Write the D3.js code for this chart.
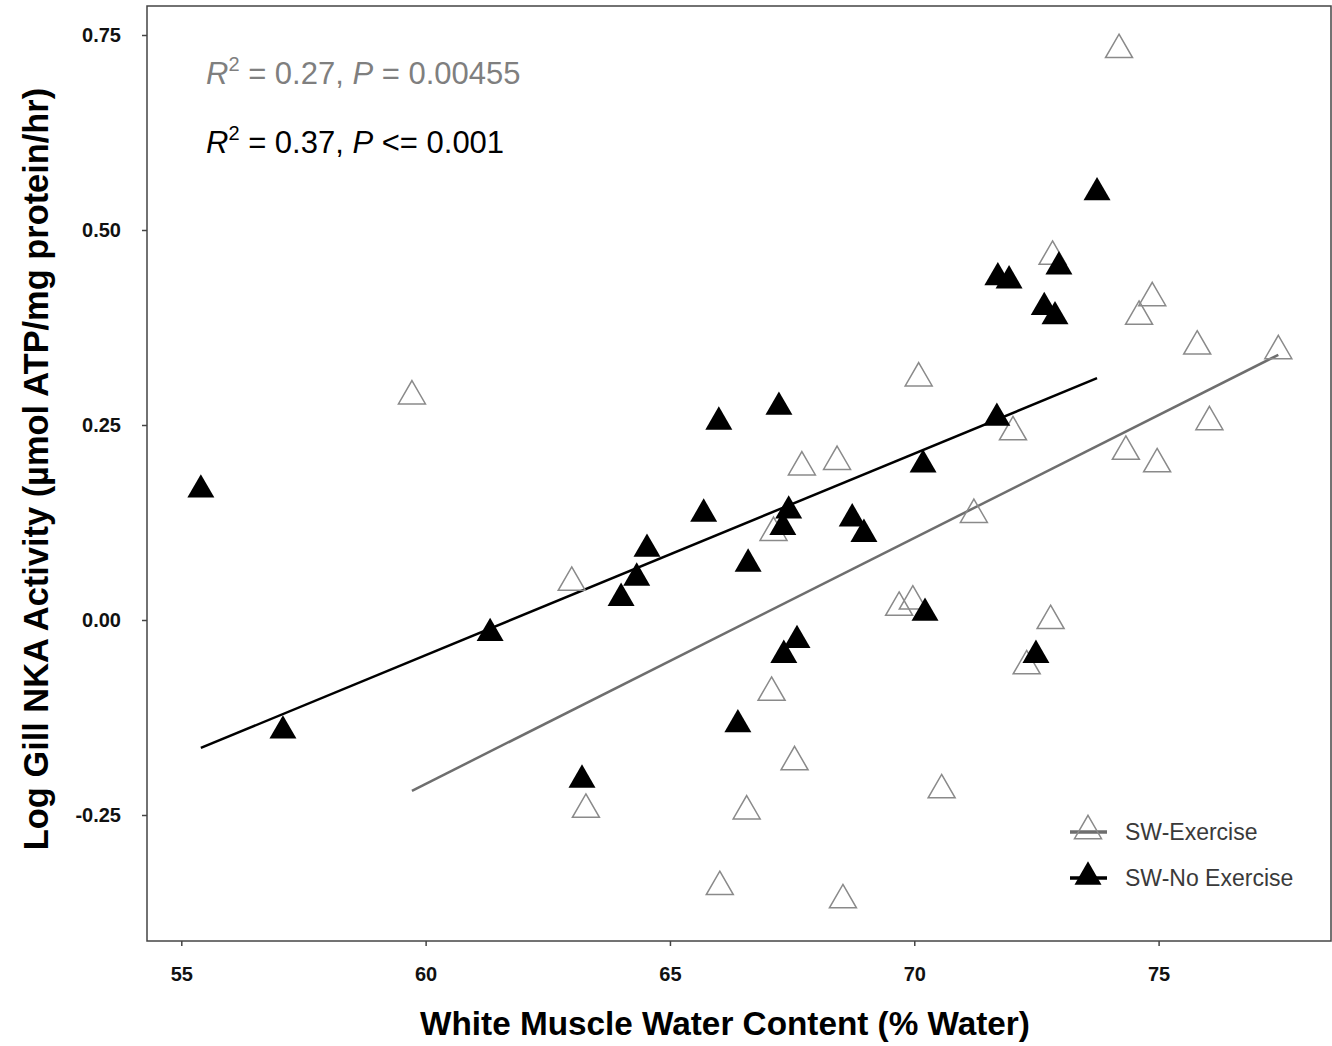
<!DOCTYPE html>
<html>
<head>
<meta charset="utf-8">
<script src="https://cdn.jsdelivr.net/npm/d3@7"></script>
<style>
  body { margin: 0; background: #fff; }
  svg { display: block; font-family: "Liberation Sans", Arial, sans-serif; }
  .tick-label { font-weight: bold; font-size: 20px; fill: #111; }
  .axis-title { font-weight: bold; font-size: 34px; fill: #000; }
  .legend-text { font-size: 23px; fill: #3a3a3a; }
  .stat { font-size: 31px; }
</style>
</head>
<body>
<script>
// SW-Exercise (open triangles)
const exerciseX = [74.19, 59.72, 62.99, 63.28, 66.02, 66.57, 67.08, 67.12, 67.55, 67.70,
  68.42, 68.54, 69.69, 69.97, 70.09, 70.56, 71.22, 72.02, 72.30, 72.79,
  72.83, 74.33, 74.60, 74.87, 74.97, 75.79, 76.04, 77.45];
const exerciseY = [0.736, 0.292, 0.053, -0.238, -0.337, -0.240, -0.088, 0.117, -0.177, 0.201,
  0.208, -0.354, 0.021, 0.029, 0.315, -0.213, 0.140, 0.246, -0.054, 0.004,
  0.471, 0.221, 0.394, 0.418, 0.205, 0.356, 0.259, 0.350];

// SW-No Exercise (filled triangles)
const noExerciseX = [55.40, 57.08, 61.32, 63.20, 64.00, 64.32, 64.53, 65.69, 66.00, 66.39,
  66.60, 67.23, 67.31, 67.33, 67.43, 67.60, 68.73, 68.97, 70.18, 70.22,
  71.69, 71.71, 71.94, 72.49, 72.66, 72.88, 72.96, 73.74];
const noExerciseY = [0.172, -0.137, -0.012, -0.200, 0.033, 0.059, 0.096, 0.141, 0.259, -0.129,
  0.077, 0.278, 0.124, -0.040, 0.145, -0.021, 0.135, 0.115, 0.204, 0.014,
  0.264, 0.444, 0.440, -0.040, 0.406, 0.394, 0.458, 0.553];

// regression line end points
const exerciseFitX = [59.72, 77.45];
const exerciseFitY = [-0.219, 0.340];
const noExerciseFitX = [55.40, 73.74];
const noExerciseFitY = [-0.164, 0.310];

const xTicks = [55, 60, 65, 70, 75];
const yTicks = [-0.25, 0.00, 0.25, 0.50, 0.75];
const seriesNames = ["SW-Exercise", "SW-No Exercise"];

const WIDTH = 1332, HEIGHT = 1046;
const PLOT = { left: 147, right: 1331, top: 6, bottom: 941 };
const GRAY = "#8a8a8a";
const LINE_GRAY = "#6e6e6e";
const TRI_W = 27;

// triangle centred on its bounding box (d3's own triangle is centred on the centroid)
const boxTriangle = {
  draw(ctx, w) {
    const h = w * Math.sqrt(3) / 2;
    ctx.moveTo(0, -h / 2);
    ctx.lineTo(w / 2, h / 2);
    ctx.lineTo(-w / 2, h / 2);
    ctx.closePath();
  }
};

const svg = d3.select("body").append("svg")
  .attr("width", WIDTH)
  .attr("height", HEIGHT);

const x = d3.scaleLinear().domain([55, 75]).range([181.3, 1158.6]);
const y = d3.scaleLinear().domain([0, 0.25]).range([620, 425]);

// frame
svg.append("rect")
  .attr("x", PLOT.left).attr("y", PLOT.top)
  .attr("width", PLOT.right - PLOT.left)
  .attr("height", PLOT.bottom - PLOT.top)
  .attr("fill", "none")
  .attr("stroke", "#444")
  .attr("stroke-width", 1.5);

// axes
const xAxis = svg.append("g")
  .attr("transform", `translate(0,${PLOT.bottom})`)
  .call(d3.axisBottom(x).tickValues(xTicks).tickSize(5).tickPadding(21).tickFormat(d3.format("d")));
const yAxis = svg.append("g")
  .attr("transform", `translate(${PLOT.left},0)`)
  .call(d3.axisLeft(y).tickValues(yTicks).tickSize(5).tickPadding(21).tickFormat(d => d.toFixed(2)));
[xAxis, yAxis].forEach(g => {
  g.select(".domain").remove();
  g.selectAll("line").attr("stroke", "#444").attr("stroke-width", 1.5);
  g.selectAll("text").attr("class", "tick-label").attr("font-family", null).attr("font-size", null);
});

// axis titles
svg.append("text")
  .attr("class", "axis-title")
  .attr("x", 725).attr("y", 1035)
  .style("font-size", "33.3px")
  .attr("text-anchor", "middle")
  .text("White Muscle Water Content (% Water)");
svg.append("text")
  .attr("class", "axis-title")
  .attr("transform", "translate(48,469) rotate(-90)")
  .style("font-size", "34.4px")
  .attr("text-anchor", "middle")
  .text("Log Gill NKA Activity (µmol ATP/mg protein/hr)");

// regression lines
const line = d3.line().x(d => x(d[0])).y(d => y(d[1]));
svg.append("path")
  .attr("d", line(d3.zip(exerciseFitX, exerciseFitY)))
  .attr("stroke", LINE_GRAY).attr("stroke-width", 2.5).attr("fill", "none");
svg.append("path")
  .attr("d", line(d3.zip(noExerciseFitX, noExerciseFitY)))
  .attr("stroke", "#000").attr("stroke-width", 2.5).attr("fill", "none");

// points
const tri = d3.symbol().type(boxTriangle).size(TRI_W);
svg.append("g").selectAll("path")
  .data(d3.zip(exerciseX, exerciseY))
  .enter().append("path")
  .attr("d", tri)
  .attr("transform", d => `translate(${x(d[0])},${y(d[1])})`)
  .attr("fill", "none")
  .attr("stroke", GRAY)
  .attr("stroke-width", 1.5);
svg.append("g").selectAll("path")
  .data(d3.zip(noExerciseX, noExerciseY))
  .enter().append("path")
  .attr("d", tri)
  .attr("transform", d => `translate(${x(d[0])},${y(d[1])})`)
  .attr("fill", "#000");

// stats text
const stats = [
  { r2: "0.27", p: " = 0.00455", color: "#7f7f7f", y: 84 },
  { r2: "0.37", p: " <= 0.001", color: "#000", y: 153 }
];
stats.forEach(s => {
  const t = svg.append("text").attr("class", "stat").attr("x", 206).attr("y", s.y).attr("fill", s.color);
  t.append("tspan").attr("font-style", "italic").text("R");
  t.append("tspan").attr("font-size", 20).attr("dy", -13).text("2");
  t.append("tspan").attr("dy", 13).text(` = ${s.r2}, `);
  t.append("tspan").attr("font-style", "italic").text("P");
  t.append("tspan").text(s.p);
});

// legend
const legend = svg.append("g").selectAll("g")
  .data(seriesNames)
  .enter().append("g")
  .attr("transform", (_, i) => `translate(1088,${827 + i * 46})`);
legend.append("line")
  .attr("x1", -18).attr("x2", 19).attr("y1", 5).attr("y2", 5)
  .attr("stroke", (_, i) => i === 0 ? LINE_GRAY : "#000")
  .attr("stroke-width", 3.5);
legend.append("path")
  .attr("d", tri)
  .attr("fill", (_, i) => i === 0 ? "none" : "#000")
  .attr("stroke", (_, i) => i === 0 ? GRAY : "none")
  .attr("stroke-width", 1.5);
legend.append("text")
  .attr("class", "legend-text")
  .attr("x", 37).attr("y", 13)
  .text(d => d);
</script>
</body>
</html>
